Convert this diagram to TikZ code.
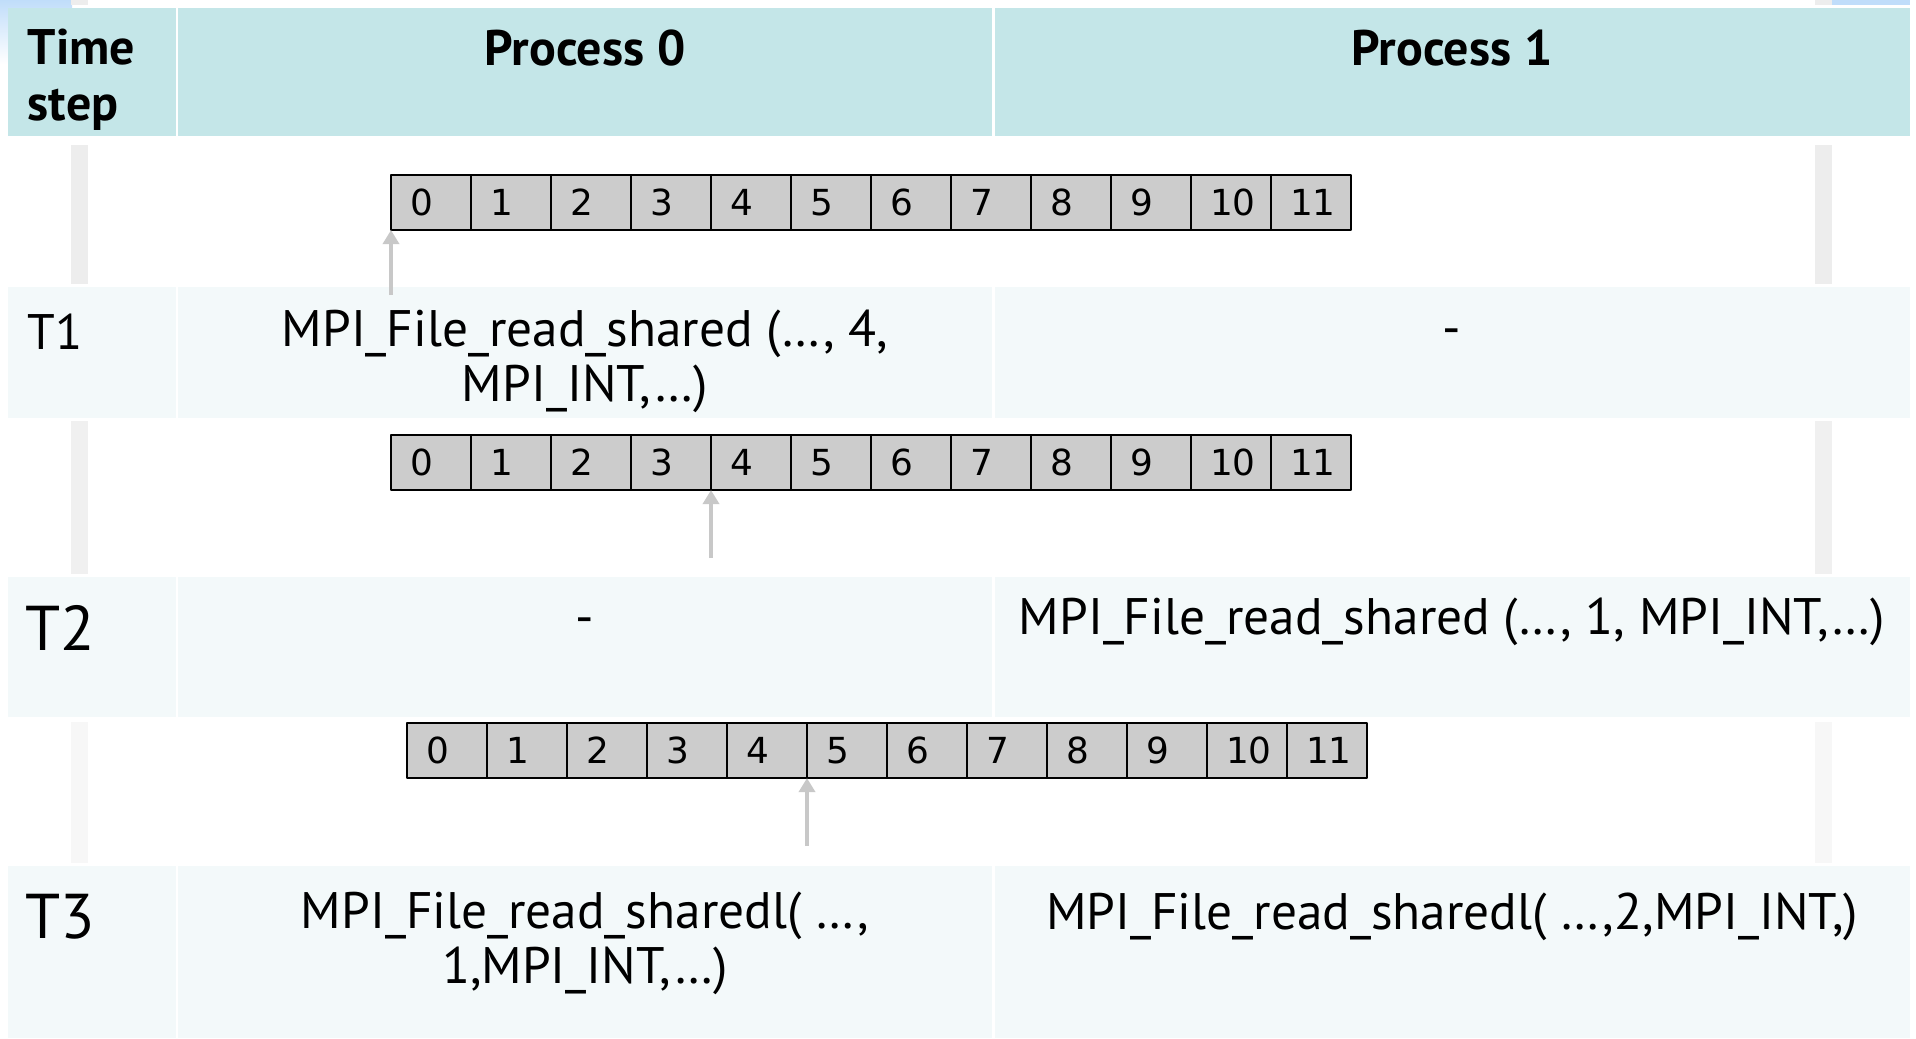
\documentclass[tikz,border=0pt]{standalone}
\usepackage{fontspec}
\setmainfont{PT Sans}
\newfontfamily\cellfont{DejaVu Sans}
\usetikzlibrary{arrows.meta}

\begin{document}
\begin{tikzpicture}[x=0.01cm, y=-0.01cm, line join=round,
    cell/.style={draw=black, line width=0.5pt, fill=cellgray, outer sep=0pt,
        minimum width=0.8cm, minimum height=0.55cm, inner ysep=0pt,
        inner xsep=0.19cm, text width=0.42cm, align=left,
        font=\cellfont\fontsize{10.2}{12}\selectfont},
    hdr/.style={font=\fontsize{14.2}{15.9}\selectfont\bfseries, inner sep=0pt},
    call/.style={font=\fontsize{14.6}{15.6}\selectfont, inner sep=0pt, align=center},
    ptr/.style={draw=ptrgray, line width=1.1pt, -{Triangle[width=0.16cm, length=0.14cm]}}]

    % --- Colors ---
    \definecolor{hdrfill}{RGB}{196, 230, 232}
    \definecolor{rowfill}{RGB}{243, 249, 250}
    \definecolor{cellgray}{RGB}{204, 204, 204}
    \definecolor{ptrgray}{RGB}{200, 200, 200}
    \definecolor{slideblue}{RGB}{192, 221, 250}

    \useasboundingbox (0, 0) rectangle (1916, 1038);

    % --- Slide remains at the corners ---
    \shade[top color=slideblue, bottom color=white] (0, 0) rectangle (72, 64);
    \fill[slideblue] (1832, 0) rectangle (1910, 5);
    \fill[black!7] (71, 0) rectangle (88, 5);
    \fill[black!7] (1815, 0) rectangle (1832, 5);

    % --- Table bands ---
    \foreach \top/\bot/\col in {8/136/hdrfill, 287/418/rowfill, 577/717/rowfill, 866/1038/rowfill} {
        \fill[\col] (8, \top) rectangle (176, \bot);
        \fill[\col] (178, \top) rectangle (992, \bot);
        \fill[\col] (995, \top) rectangle (1910, \bot);
    }

    % --- Gray side bars between the rows ---
    \foreach \top/\bot/\shd in {145/284/7, 421/574/6, 722/863/3} {
        \fill[black!\shd] (71, \top) rectangle (88, \bot);
        \fill[black!\shd] (1815, \top) rectangle (1832, \bot);
    }

    % --- Header (base anchor sits on the last line) ---
    \node[hdr, anchor=base west, align=left] (hdrtime) at (27, 120) {Time\\step};
    \node[hdr, anchor=base] (hdrproc0) at (585, 65) {Process 0};
    \node[hdr, anchor=base] (hdrproc1) at (1452, 65) {Process 1};

    % --- Time step labels ---
    \node[font=\fontsize{14.2}{16}\selectfont, inner sep=0pt, anchor=base west] (tone) at (27, 349) {T1};
    \node[font=\fontsize{18}{20}\selectfont, inner sep=0pt, anchor=base west] (ttwo) at (25, 650) {T2};
    \node[font=\fontsize{18}{20}\selectfont, inner sep=0pt, anchor=base west] (tthree) at (25, 938) {T3};

    % --- File arrays ---
    \foreach \r/\x/\y in {1/391/175, 2/391/435, 3/407/723} {
        \foreach \i in {0,...,11} {
            \node[cell, anchor=north west] (a\r c\i) at ({\x+80*\i}, \y) {\i};
        }
    }

    % --- Shared file pointer ---
    \coordinate (ptr1) at (391, 295);
    \coordinate (ptr2) at (711, 558);
    \coordinate (ptr3) at (807, 846);
    \draw[ptr] (ptr1) -- (a1c0.south west);
    \draw[ptr] (ptr2) -- (a2c4.south west);
    \draw[ptr] (ptr3) -- (a3c5.south west);

    % --- Calls ---
    \node[call, anchor=base] (call0t1) at (585, 401) {MPI\_File\_read\_shared (…, 4,\\MPI\_INT,…)};
    \node[call, anchor=base] (call1t1) at (1452, 345) {-};
    \node[call, anchor=base] (call0t2) at (585, 634) {-};
    \node[call, anchor=base] (call1t2) at (1452, 634) {MPI\_File\_read\_shared (…, 1, MPI\_INT,…)};
    \node[call, anchor=base] (call0t3) at (585, 983) {MPI\_File\_read\_sharedl( …,\\1,MPI\_INT,…)};
    \node[call, anchor=base] (call1t3) at (1452, 929) {MPI\_File\_read\_sharedl( …,2,MPI\_INT,)};

\end{tikzpicture}
\end{document}
